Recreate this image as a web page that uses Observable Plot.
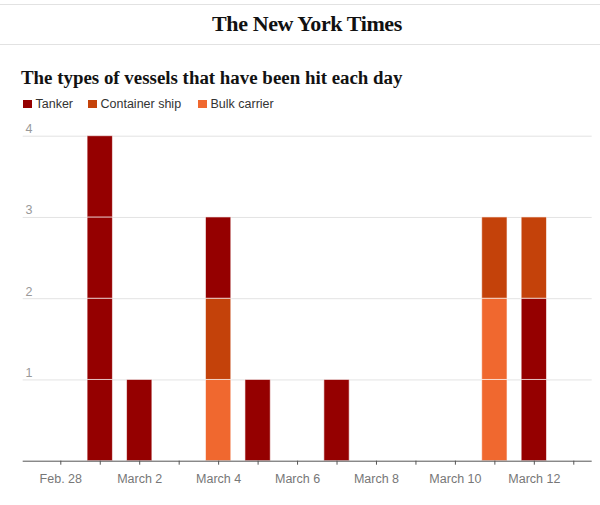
<!DOCTYPE html>
<html>
<head>
<meta charset="utf-8">
<script src="https://cdn.jsdelivr.net/npm/d3@7"></script>
<script src="https://cdn.jsdelivr.net/npm/@observablehq/plot@0.6"></script>
<style>
  html, body { margin: 0; padding: 0; background: #fff; }
  body { width: 600px; height: 505px; position: relative; overflow: hidden; font-family: "Liberation Sans", Arial, sans-serif; }
  .rule { position: absolute; left: 0; width: 600px; height: 1px; background: #e2e2e2; }
  #logo { position: absolute; left: 0; width: 614px; top: 9px; text-align: center; font-family: "Liberation Serif", serif; font-weight: bold; font-size: 22px; line-height: 30px; color: #111; letter-spacing: -0.4px; }
  #title { position: absolute; left: 21px; top: 66px; font-family: "Liberation Serif", serif; font-weight: bold; font-size: 18.9px; line-height: 24px; color: #121212; white-space: nowrap; }
  #legend { position: absolute; left: 23px; top: 96px; font-size: 12.5px; line-height: 16px; color: #333; white-space: nowrap; }
  #legend span.item { position: absolute; top: 0; }
  #legend i { position: absolute; top: 3.5px; left: 0; width: 8.5px; height: 8.5px; }
  #legend b { position: absolute; top: 0; font-weight: normal; }
  #chart { position: absolute; left: 0; top: 115px; }
</style>
</head>
<body>
<div class="rule" style="top:4px"></div>
<div id="logo">The New York Times</div>
<div class="rule" style="top:44px"></div>
<div id="title">The types of vessels that have been hit each day</div>
<div id="legend"></div>
<div id="chart"></div>
<script>
// ---- data ----
const types = ["Tanker", "Container ship", "Bulk carrier"];
const typeColors = ["#950000", "#c4420a", "#f0682f"];
const hitDays = ["2026-03-01", "2026-03-02", "2026-03-04", "2026-03-05", "2026-03-07", "2026-03-11", "2026-03-12"];
// vessels hit on each day, stacked bottom to top
const hitVessels = [
  ["Tanker", "Tanker", "Tanker", "Tanker"],
  ["Tanker"],
  ["Bulk carrier", "Container ship", "Tanker"],
  ["Tanker"],
  ["Tanker"],
  ["Bulk carrier", "Bulk carrier", "Container ship"],
  ["Tanker", "Tanker", "Container ship"]
];
const tickDays = ["2026-02-28","2026-03-01","2026-03-02","2026-03-03","2026-03-04","2026-03-05","2026-03-06","2026-03-07","2026-03-08","2026-03-09","2026-03-10","2026-03-11","2026-03-12","2026-03-13"];
const tickLabels = ["Feb. 28","","March 2","","March 4","","March 6","","March 8","","March 10","","March 12",""];
const yTicks = [1, 2, 3, 4];

// ---- legend ----
const legendOffsets = [0, 65, 175];
const legend = document.getElementById("legend");
types.forEach((t, i) => {
  const s = document.createElement("span");
  s.className = "item";
  s.style.left = legendOffsets[i] + "px";
  s.innerHTML = `<i style="background:${typeColors[i]}"></i><b style="left:12.5px">${t}</b>`;
  legend.appendChild(s);
});

// ---- build unit table ----
const parse = d3.utcParse("%Y-%m-%d");
const halfBar = 7.7 * 3600 * 1000; // bar half-width in ms
const units = [];
hitDays.forEach((d, i) => {
  const date = parse(d);
  hitVessels[i].forEach((type, k) => {
    units.push({date, type, y1: k, y2: k + 1,
      x1: new Date(+date - halfBar), x2: new Date(+date + halfBar)});
  });
});
const ticks = tickDays.map(parse);
const labelOf = new Map(ticks.map((t, i) => [+t, tickLabels[i]]));

const chart = Plot.plot({
  width: 600,
  height: 390,
  marginLeft: 22.7,
  marginRight: 8.3,
  marginTop: 20.7,
  marginBottom: 44.3,
  style: {fontFamily: "'Liberation Sans', Arial, sans-serif", fontSize: "12.5px", background: "transparent"},
  x: {type: "utc", domain: [new Date(Date.UTC(2026, 1, 27, 1, 8)), new Date(Date.UTC(2026, 2, 13, 11, 12))]},
  y: {domain: [0, 4]},
  color: {domain: types, range: typeColors},
  marks: [
    Plot.gridY(yTicks, {stroke: "#e3e3e3", strokeOpacity: 1}),
    Plot.rectY(units, {x1: "x1", x2: "x2", y1: "y1", y2: "y2", fill: "type", stroke: "#fff", strokeOpacity: 0.6, strokeWidth: 1}),
    Plot.ruleY([0], {stroke: "#555"}),
    Plot.axisX(ticks, {tickSize: 4, tickPadding: 9, stroke: "#555", fill: "#777", tickFormat: d => labelOf.get(+d), label: null}),
    Plot.axisY(yTicks, {anchor: "left", tickSize: 0, tickPadding: 3, textAnchor: "start", dx: 5.3, dy: -7, fill: "#999", tickFormat: d3.format("d"), label: null})
  ]
});
document.getElementById("chart").appendChild(chart);
</script>
</body>
</html>
